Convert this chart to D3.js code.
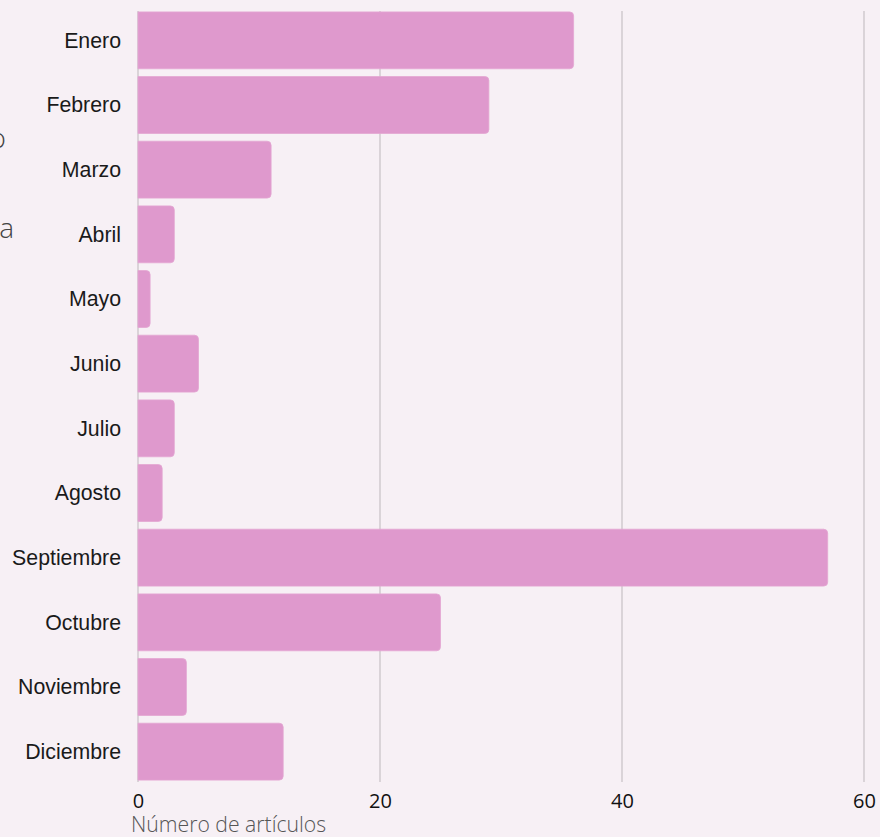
<!DOCTYPE html>
<html><head><meta charset="utf-8">
<script src="https://cdn.jsdelivr.net/npm/d3@7"></script>
<style>
html,body{margin:0;padding:0;background:#f7f0f5;}
svg{display:block;}
</style></head>
<body><svg id="chart" width="880" height="837"></svg>
<script>
const months = ["Enero","Febrero","Marzo","Abril","Mayo","Junio","Julio","Agosto","Septiembre","Octubre","Noviembre","Diciembre"];
const counts = [36,29,11,3,1,5,3,2,57,25,4,12];
const xTicks = [0,20,40,60];
const xTitle = "Número de artículos";

const svg = d3.select("#chart");
svg.append("rect").attr("width",880).attr("height",837).attr("fill","#f7f0f5");

const x = d3.scaleLinear().domain([0,60]).range([138,864]);
const y = d3.scaleBand().domain(months).range([8,784]).paddingInner(0.12).paddingOuter(0.06);

// gridlines
svg.append("g").selectAll("line").data(xTicks).join("line")
  .attr("x1",d=>x(d)).attr("x2",d=>x(d)).attr("y1",11).attr("y2",782)
  .attr("stroke","#bdb7bb").attr("stroke-width",1);

// bars with right-rounded corners
const r = 4;
svg.append("g").selectAll("path").data(months).join("path")
  .attr("fill","#df99cd").attr("stroke","#e3a6d2").attr("stroke-width",0.8)
  .attr("d",(m,i)=>{
    const x0 = x(0), x1 = x(counts[i]), y0 = y(m), h = y.bandwidth();
    const rr = Math.min(r,(x1-x0)/2);
    return `M${x0},${y0}H${x1-rr}Q${x1},${y0} ${x1},${y0+rr}V${y0+h-rr}Q${x1},${y0+h} ${x1-rr},${y0+h}H${x0}Z`;
  });

// y labels
const yAxis = d3.axisLeft(y).tickSize(0).tickPadding(0);
const gy = svg.append("g").attr("transform","translate(121,0)").call(yAxis);
gy.select(".domain").remove();
gy.selectAll("text").attr("font-family","'Liberation Sans', Arial, sans-serif")
  .attr("font-size",21.3).attr("fill","#1a1a1a").attr("dy","0.35em");

// x ticks
const xAxis = d3.axisBottom(x).tickValues(xTicks).tickSize(0).tickPadding(0);
const gx = svg.append("g").attr("transform","translate(0,790)").call(xAxis);
gx.select(".domain").remove();
gx.selectAll("text").attr("font-family","'Open Sans', sans-serif")
  .attr("font-size",20).attr("fill","#111").attr("dy","0.9em");

// x title
svg.append("text").attr("x",131).attr("y",832)
  .attr("font-family","'Open Sans', sans-serif").attr("font-weight",300)
  .attr("font-size",21.2).attr("fill","#555").text(xTitle);

// cut-off left text fragments
svg.append("text").attr("x",6).attr("y",148).attr("text-anchor","end")
  .attr("font-family","'Open Sans', sans-serif").attr("font-weight",300)
  .attr("font-size",28).attr("fill","#444").text("o");
svg.append("text").attr("x",14).attr("y",238).attr("text-anchor","end")
  .attr("font-family","'Open Sans', sans-serif").attr("font-weight",300)
  .attr("font-size",28).attr("fill","#444").text("a");
</script></body></html>
